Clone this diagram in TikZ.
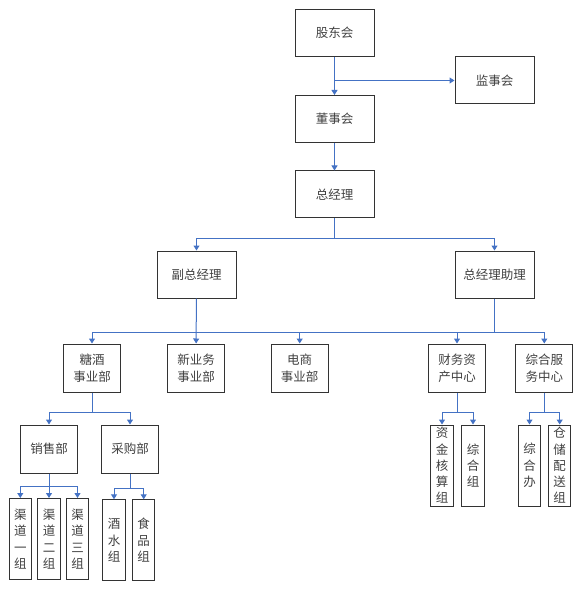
\documentclass[tikz,border=0pt]{standalone}
\usepackage{fontspec}
\newfontfamily\cjk{Noto Sans CJK SC}
\usetikzlibrary{arrows.meta}
\definecolor{linkblue}{HTML}{4472C4}
\tikzset {
    box/.style = {draw = black!80, line width = 1pt, inner sep = 0pt, align = center,
        text = black!75, font = \cjk\fontsize{12.5}{17}\selectfont},
    wide box/.style = {box, minimum width = 79pt, minimum height = 47pt},
    mid box/.style = {box, minimum width = 57pt, minimum height = 48pt},
    tall box/.style = {box, minimum width = 22.5pt, minimum height = 81pt,
        font = \cjk\fontsize{12.5}{16.3}\selectfont},
    link/.style = {draw = linkblue, line width = 1pt},
    arrowed link/.style = {link, -{Triangle[length = 5pt, width = 6pt]}}
}
\begin{document}
\begin{tikzpicture}[x = 1pt, y = -1pt]
            \useasboundingbox (0, 0) rectangle (585, 593);
            % top levels
            \node (gd) [wide box] at (334.5, 33) {股东会};
            \node (jsh) [wide box] at (494.5, 80.5) {监事会};
            \node (dsh) [wide box] at (334.5, 119) {董事会};
            \node (zjl) [wide box] at (334.5, 194.5) {总经理};
            \node (fz) [wide box] at (196.5, 274.5) {副总经理};
            \node (zl) [wide box] at (494.5, 274.5) {总经理助理};
            % departments
            \node (tj) [mid box] at (92, 368) {糖酒\\事业部};
            \node (xyw) [mid box] at (196, 368) {新业务\\事业部};
            \node (dsb) [mid box] at (299.7, 368) {电商\\事业部};
            \node (cw) [mid box] at (457, 368) {财务资\\产中心};
            \node (zh) [mid box] at (544.3, 368) {综合服\\务中心};
            \node (xs) [mid box] at (49, 449) {销售部};
            \node (cg) [mid box] at (130, 449) {采购部};
            % groups
            \node (qd1) [tall box] at (20.3, 539) {渠\\道\\一\\组};
            \node (qd2) [tall box] at (49, 539) {渠\\道\\二\\组};
            \node (qd3) [tall box] at (77.5, 539) {渠\\道\\三\\组};
            \node (jsz) [tall box] at (114, 540.3) {酒\\水\\组};
            \node (spz) [tall box] at (143.7, 540.3) {食\\品\\组};
            \node (zjz) [tall box] at (442, 465.5) {资\\金\\核\\算\\组};
            \node (zhz) [tall box] at (473, 465.5) {综\\合\\组};
            \node (zhb) [tall box] at (529.5, 465.5) {综\\合\\办};
            \node (ccz) [tall box] at (559.7, 465.5) {仓\\储\\配\\送\\组};
            % junctions
            \coordinate (s1) at (334.5, 80.5);
            \coordinate (b1) at (334.5, 239);
            \coordinate (b2l) at (196, 332.7);
            \coordinate (b2r) at (494.5, 332.7);
            \coordinate (b3) at (92, 412.7);
            \coordinate (b4) at (49, 486.7);
            \coordinate (b5) at (130, 488.3);
            \coordinate (b6) at (457, 412.7);
            \coordinate (b7) at (544.3, 412.7);
            % connectors
            \draw [arrowed link] (gd) -- (dsh);
            \draw [arrowed link] (s1) -- (jsh);
            \draw [arrowed link] (dsh) -- (zjl);
            \draw [link] (zjl) -- (b1);
            \draw [arrowed link] (b1) -| (fz);
            \draw [arrowed link] (b1) -| (zl);
            \draw [arrowed link] (fz) -- (xyw);
            \draw [link] (zl) -- (b2r);
            \draw [link] (b2l) -- (b2r);
            \draw [arrowed link] (b2l) -| (tj);
            \draw [arrowed link] (b2l) -| (dsb);
            \draw [arrowed link] (b2r) -| (cw);
            \draw [arrowed link] (b2r) -| (zh);
            \draw [link] (tj) -- (b3);
            \draw [arrowed link] (b3) -| (xs);
            \draw [arrowed link] (b3) -| (cg);
            \draw [arrowed link] (xs) -- (qd2);
            \draw [arrowed link] (b4) -| (qd1);
            \draw [arrowed link] (b4) -| (qd3);
            \draw [link] (cg) -- (b5);
            \draw [arrowed link] (b5) -| (jsz);
            \draw [arrowed link] (b5) -| (spz);
            \draw [link] (cw) -- (b6);
            \draw [arrowed link] (b6) -| (zjz);
            \draw [arrowed link] (b6) -| (zhz);
            \draw [link] (zh) -- (b7);
            \draw [arrowed link] (b7) -| (zhb);
            \draw [arrowed link] (b7) -| (ccz);
        \end{tikzpicture}
\end{document}
